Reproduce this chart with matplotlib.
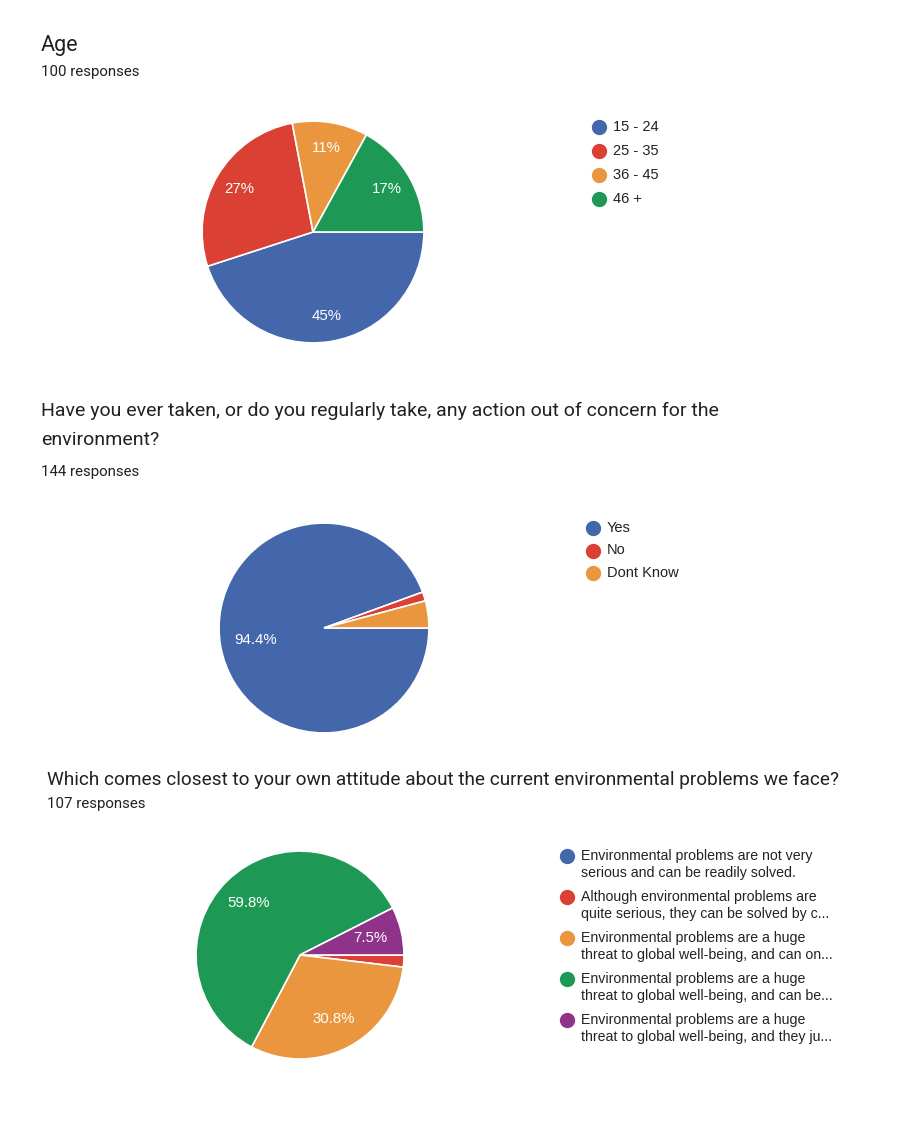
import matplotlib
matplotlib.use('agg')
import matplotlib.pyplot as plt

# data
age_labels = ['15 - 24', '25 - 35', '36 - 45', '46 +']
age_counts = [45, 27, 11, 17]
age_colors = ['#4467ac', '#db4035', '#e9963e', '#1d9955']

action_labels = ['Yes', 'No', 'Dont Know']
action_counts = [136, 2, 6]
action_colors = ['#4467ac', '#db4035', '#e9963e']

attitude_labels = [
    'Environmental problems are not very\nserious and can be readily solved.',
    'Although environmental problems are\nquite serious, they can be solved by c...',
    'Environmental problems are a huge\nthreat to global well-being, and can on...',
    'Environmental problems are a huge\nthreat to global well-being, and can be...',
    'Environmental problems are a huge\nthreat to global well-being, and they ju...',
]
attitude_counts = [0, 2, 33, 64, 8]
attitude_colors = ['#4467ac', '#db4035', '#e9963e', '#1d9955', '#8f328a']

W, H = 904, 1130
fig = plt.figure(figsize=(W / 100, H / 100), dpi=100)

# overlay axes in pixel units for titles and legends
ov = fig.add_axes([0, 0, 1, 1])
ov.set_xlim(0, W)
ov.set_ylim(H, 0)
ov.axis('off')

title_font = ['Roboto', 'DejaVu Sans']
arial = ['Liberation Sans', 'DejaVu Sans']


def draw_pie(counts, colors, cx, cy, r, pctfmt, dist, min_pct=5):
    ax = fig.add_axes([(cx - r) / W, 1 - (cy + r) / H, 2 * r / W, 2 * r / H])

    def fmt(p):
        return pctfmt % p if p >= min_pct else ''

    ax.pie(counts, colors=colors, startangle=0, counterclock=False,
           autopct=fmt, pctdistance=dist,
           wedgeprops=dict(edgecolor='white', linewidth=1.2),
           textprops=dict(color='white', fontsize=10.8, family=arial))
    ax.set_xlim(-1.01, 1.01)
    ax.set_ylim(-1.01, 1.01)
    ax.set_aspect('equal')
    ax.axis('off')
    return ax


def draw_legend(labels, colors, x, y0, step, size=10.5, line_gap=17):
    for i, (lab, col) in enumerate(zip(labels, colors)):
        y = y0 + i * step
        ov.scatter([x], [y], s=100, color=col, zorder=3)
        for j, line in enumerate(lab.split('\n')):
            ov.text(x + 14, y + j * line_gap, line, fontsize=size, family=arial,
                    color='#222222', va='center', ha='left')


# Chart 1: Age
ov.text(41, 46, 'Age', fontsize=15.5, family=title_font, color='#202124', va='center')
ov.text(41, 72, '100 responses', fontsize=10.8, family=title_font, color='#202124', va='center')
draw_pie(age_counts, age_colors, 313, 232, 112, '%.0f%%', 0.77)
draw_legend(age_labels, age_colors, 599, 127, 24)

# Chart 2: action
ov.text(41, 411, 'Have you ever taken, or do you regularly take, any action out of concern for the',
        fontsize=14, family=title_font, color='#202124', va='center')
ov.text(41, 440, 'environment?', fontsize=14, family=title_font, color='#202124', va='center')
ov.text(41, 472, '144 responses', fontsize=10.8, family=title_font, color='#202124', va='center')
draw_pie(action_counts, action_colors, 324, 628, 106, '%.1f%%', 0.66)
draw_legend(action_labels, action_colors, 593, 528, 22.5)

# Chart 3: attitude
ov.text(47, 780, 'Which comes closest to your own attitude about the current environmental problems we face?',
        fontsize=13.7, family=title_font, color='#202124', va='center')
ov.text(47, 804, '107 responses', fontsize=10.8, family=title_font, color='#202124', va='center')
draw_pie(attitude_counts, attitude_colors, 300, 955, 105, '%.1f%%', 0.7)
draw_legend(attitude_labels, attitude_colors, 567, 856, 41, size=10.2, line_gap=17)

fig.savefig('out.png', dpi=100)
